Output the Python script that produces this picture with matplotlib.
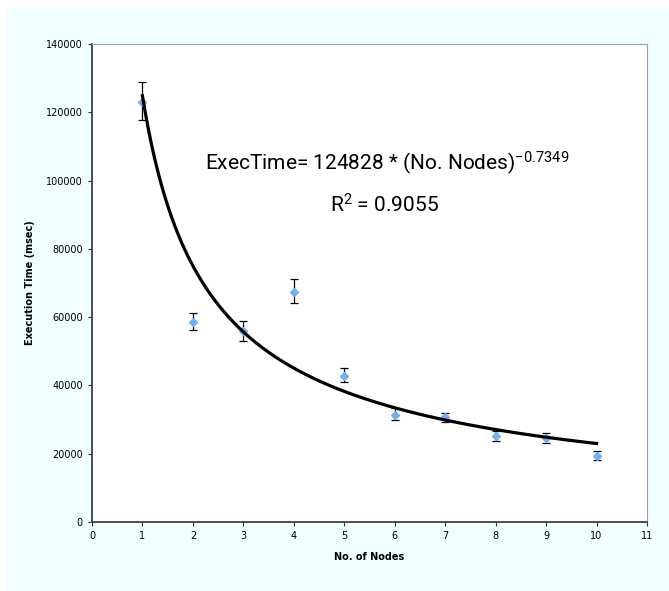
import matplotlib.pyplot as plt
from matplotlib.patches import Rectangle
import numpy as np

# measured points (No. of nodes vs execution time, msec)
nodes = [1, 2, 3, 4, 5, 6, 7, 8, 9, 10]
exec_time = [122900, 58700, 56000, 67500, 42900, 31300, 30700, 25200, 24500, 19400]
err_high = [128900, 61200, 59000, 71200, 45000, 33300, 31800, 26700, 26000, 20800]
err_low = [117700, 56300, 53100, 64100, 40900, 29800, 29200, 23700, 23200, 18200]

# power trendline shown on the chart
coef = 124828
expo = -0.7349
r2 = 0.9055

plt.rcParams['axes.unicode_minus'] = False
plt.rcParams['mathtext.fontset'] = 'custom'
plt.rcParams['mathtext.rm'] = 'Roboto'
plt.rcParams['mathtext.it'] = 'Roboto'
plt.rcParams['mathtext.default'] = 'regular'

W, H = 669, 591
fig = plt.figure(figsize=(W / 100, H / 100), dpi=100)
fig.patch.set_facecolor('white')
fig.add_artist(Rectangle((6 / W, 0), 1, 1 - 8 / H, transform=fig.transFigure,
                         facecolor='#F0FFFF', edgecolor='none', zorder=0))

ax = fig.add_axes([92 / W, 1 - 522 / H, (647 - 92) / W, (522 - 44) / H])
ax.set_facecolor('white')

yerr = [np.array(exec_time) - np.array(err_low), np.array(err_high) - np.array(exec_time)]
ax.errorbar(nodes, exec_time, yerr=yerr, fmt='D', color='#6EB1F5', markersize=4,
            ecolor='black', elinewidth=0.9, capsize=3.2, capthick=0.9, zorder=3)

xs = np.linspace(nodes[0], nodes[-1], 300)
ax.plot(xs, coef * xs ** expo, color='black', linewidth=2.3, zorder=4)

ax.set_xlim(0, 11)
ax.set_ylim(0, 140000)
ax.set_xticks(range(0, 12))
ax.set_yticks(range(0, 140001, 20000))
ax.tick_params(labelsize=7, direction='out', length=3, width=0.8, colors='#333333')
ax.tick_params(labelcolor='black')

for side in ['left', 'bottom']:
    ax.spines[side].set_color('#404040')
    ax.spines[side].set_linewidth(1.3)
for side in ['top', 'right']:
    ax.spines[side].set_color('#A0A0A0')
    ax.spines[side].set_linewidth(0.8)

ax.set_xlabel('No. of Nodes', fontsize=7, fontweight='bold', labelpad=8)
ax.set_ylabel('Execution Time (msec)', fontsize=7, fontweight='bold', labelpad=8)

ax.text(5.85, 105000, 'ExecTime= %d * (No. Nodes)$^{%s}$' % (coef, expo),
        fontsize=15, ha='center', va='center', family='Roboto')
ax.text(5.8, 93000, 'R$^{2}$ = %s' % r2, fontsize=15, ha='center', va='center',
        family='Roboto')

plt.savefig('out.png', dpi=100)
